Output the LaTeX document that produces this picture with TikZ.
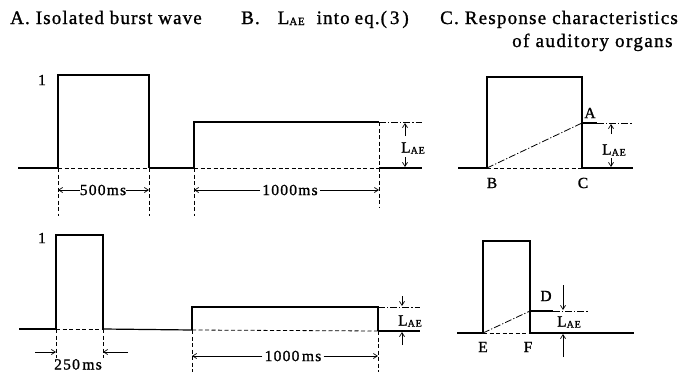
\documentclass[tikz,border=0pt]{standalone}
\usepackage{fontspec}
\setmainfont{Liberation Serif}[FakeBold=1.2]
\newfontfamily\titlefam[LetterSpace=6,FakeBold=1.2]{Liberation Serif}
\newfontfamily\titlefamC[LetterSpace=6.4,FakeBold=1.2]{Liberation Serif}
\newfontfamily\titlefamD[LetterSpace=7.5,FakeBold=1.2]{Liberation Serif}
\newfontfamily\dimfam[LetterSpace=8,FakeBold=1.2]{Liberation Serif}
\newcommand\titlefont{\titlefam\fontsize{19}{21}\selectfont}
\newcommand\titlefontC{\titlefamC\fontsize{19}{21}\selectfont}
\newcommand\titlefontD{\titlefamD\fontsize{19}{21}\selectfont}
\newcommand\dimfont{\dimfam\fontsize{15.5}{17}\selectfont}
\newcommand\lae{L\raisebox{-1pt}{\fontsize{10}{10}\selectfont AE}}
\newcommand\laet{L\raisebox{-1pt}{\fontsize{11}{11}\selectfont AE}}
\usetikzlibrary{arrows.meta}
\begin{document}
\begin{tikzpicture}[x=1pt,y=-1pt,
  sline/.style={line width=1.2pt},
  dline/.style={line width=0.8pt, dash pattern=on 4pt off 2.5pt},
  ddline/.style={line width=0.8pt, dash pattern=on 7pt off 2pt on 1.2pt off 2pt},
  dimarrow/.style={line width=0.7pt, -{Straight Barb[length=4pt,width=5pt]}},
  lbl/.style={inner sep=0pt, font=\dimfont},
  ttl/.style={inner sep=0pt, anchor=base west, font=\titlefont}]
\useasboundingbox (0,0) rectangle (678,372);
\clip (0,0) rectangle (678,372);

% titles
\node[ttl] (tA) at (10,24) {A.\hspace{6pt}Isolated burst wave};
\node[ttl] (tB) at (241,24) {B.\hspace{18pt}\laet\hspace{12pt}into\hspace{5pt}eq.\hspace{1pt}(\hspace{3pt}3\hspace{3pt})};
\node[ttl, font=\titlefontC] (tC) at (440,24) {C.\hspace{6pt}Response characteristics};
\node[ttl, font=\titlefontD] (tC2) at (512,47) {of auditory organs};

% ---------- top row ----------
\node[lbl] (one1) at (42,80) {1};
\draw[sline] (58,168) -- (58,75) -- (149,75) -- (149,168);
\draw[sline] (18,168) -- (58,168);
\draw[dline] (58,168) -- (149,168);
\draw[sline] (149,168) -- (194,168);
\draw[dline] (194,168) -- (379,168);
\draw[sline] (379,168) -- (422,168);
\draw[sline] (194,168) -- (194,122) -- (379,122);
\draw[ddline] (379,122) -- (422,122);
\draw[dline] (379,122) -- (379,207);
\draw[dline] (58,168) -- (58,216);
\draw[dline] (149,168) -- (149,216);
\draw[dline] (194,168) -- (194,216);

\node[lbl] (d500) at (103,190) {500ms};
\coordinate (d500l) at (58,190);
\coordinate (d500r) at (149,190);
\draw[dimarrow] (d500.west) -- (d500l);
\draw[dimarrow] (d500.east) -- (d500r);

\node[lbl] (d1000a) at (290,190) {1000ms};
\coordinate (d1000al) at (194,190);
\coordinate (d1000ar) at (379,190);
\draw[dimarrow] ([xshift=-2pt]d1000a.west) -- (d1000al);
\draw[dimarrow] ([xshift=2pt]d1000a.east) -- (d1000ar);

\node[lbl] (laeB1) at (413,148) {\lae};
\coordinate (aB1u0) at (405,136); \coordinate (aB1u1) at (405,123);
\coordinate (aB1d0) at (405,157); \coordinate (aB1d1) at (405,167);
\draw[dimarrow] (aB1u0) -- (aB1u1);
\draw[dimarrow] (aB1d0) -- (aB1d1);

% C top
\draw[sline] (487,168) -- (487,77) -- (582,77) -- (582,168);
\draw[sline] (458,168) -- (487,168);
\draw[dline] (487,168) -- (582,168);
\draw[sline] (582,168) -- (633,168);
\coordinate (Bp) at (487,168);
\coordinate (Ap) at (582,123);
\draw[ddline] (Bp) -- (Ap);
\draw[sline] (Ap) -- (597,123);
\draw[ddline] (597,123) -- (633,123);
\node[lbl] (lA) at (590,113) {A};
\node[lbl] (lB) at (492,183) {B};
\node[lbl] (lC) at (583,183) {C};
\node[lbl] (laeC1) at (614,150) {\lae};
\coordinate (aC1u0) at (611,134); \coordinate (aC1u1) at (611,124);
\coordinate (aC1d0) at (611,158); \coordinate (aC1d1) at (611,167);
\draw[dimarrow] (aC1u0) -- (aC1u1);
\draw[dimarrow] (aC1d0) -- (aC1d1);

% ---------- bottom row ----------
\node[lbl] (one2) at (42,238) {1};
\draw[sline] (56,329) -- (56,235) -- (103,235) -- (103,329);
\draw[sline] (19,329) -- (56,329);
\draw[dline] (56,329) -- (103,329);
\draw[sline] (103,329) -- (192,330);
\draw[dline] (192,330) -- (378,331);
\draw[sline] (378,331) -- (420,331);
\draw[sline] (192,330) -- (192,307) -- (378,307) -- (378,331);
\draw[ddline] (378,307) -- (420,307);
\draw[dline] (192,330) -- (192,372);
\draw[dline] (378,331) -- (378,372);
\draw[dline] (56,329) -- (56,358);
\draw[dline] (103,329) -- (103,358);

\node[lbl] (d1000b) at (293,356) {1000\,ms};
\coordinate (d1000bl) at (192,356);
\coordinate (d1000br) at (378,356);
\draw[dimarrow] ([xshift=-2pt]d1000b.west) -- (d1000bl);
\draw[dimarrow] ([xshift=2pt]d1000b.east) -- (d1000br);

\coordinate (a250l0) at (35,352); \coordinate (a250l1) at (56,352);
\coordinate (a250r0) at (128,352); \coordinate (a250r1) at (103,352);
\draw[dimarrow] (a250l0) -- (a250l1);
\draw[dimarrow] (a250r0) -- (a250r1);
\node[lbl, anchor=base] (d250) at (78,369.5) {250\,ms};

\node[lbl] (laeB2) at (410,321) {\lae};
\coordinate (aB2d0) at (402,296); \coordinate (aB2d1) at (402,306);
\coordinate (aB2u0) at (402,345); \coordinate (aB2u1) at (402,332);
\draw[dimarrow] (aB2d0) -- (aB2d1);
\draw[dimarrow] (aB2u0) -- (aB2u1);

% C bottom
\draw[sline] (483,333) -- (483,241) -- (530,241) -- (530,333);
\draw[sline] (457,333) -- (483,333);
\draw[dline] (483,333) -- (530,333);
\draw[sline] (530,333) -- (634,333);
\coordinate (Ep) at (483,333);
\coordinate (Dp) at (530,311);
\draw[ddline] (Ep) -- (Dp);
\draw[sline] (Dp) -- (553,311);
\draw[ddline] (553,311) -- (588,311);
\node[lbl] (lD) at (546,296) {D};
\node[lbl] (lE) at (483,347) {E};
\node[lbl] (lF) at (528,347) {F};
\node[lbl] (laeC2) at (569,322) {\lae};
\coordinate (aC2d0) at (563,285); \coordinate (aC2d1) at (563,310);
\coordinate (aC2u0) at (563,357); \coordinate (aC2u1) at (563,334);
\draw[dimarrow] (aC2d0) -- (aC2d1);
\draw[dimarrow] (aC2u0) -- (aC2u1);
\end{tikzpicture}
\end{document}
